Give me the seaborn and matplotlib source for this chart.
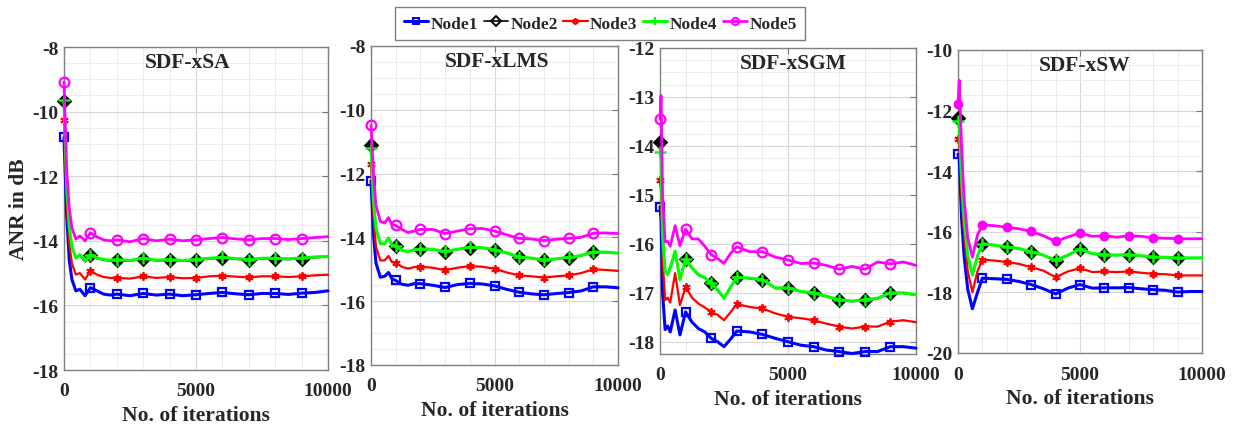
import numpy as np
import pandas as pd
import matplotlib
matplotlib.use("Agg")
import matplotlib.pyplot as plt
import seaborn as sns
from matplotlib.lines import Line2D
from matplotlib.ticker import MultipleLocator

# ---------------- data ----------------
NODES = ["Node1", "Node2", "Node3", "Node4", "Node5"]
TITLES = ["SDF-xSA", "SDF-xLMS", "SDF-xSGM", "SDF-xSW"]

# Panel 1: SDF-xSA
X1 = [0, 100, 200, 300, 450, 600, 800, 1000, 1250, 1500, 1750, 2000, 2500, 3000, 3500,
      4000, 4500, 5000, 5500, 6000, 6500, 7000, 7500, 8000, 8500, 9000, 9500, 10000]
SA_N1 = [-10.8, -13.2, -14.6, -15.2, -15.55, -15.5, -15.7, -15.45, -15.55, -15.65, -15.68, -15.65, -15.7, -15.63,
         -15.68, -15.65, -15.7, -15.67, -15.63, -15.6, -15.64, -15.67, -15.63, -15.63, -15.66, -15.62, -15.6, -15.55]
SA_N2 = [-9.67, -12.3, -13.6, -14.2, -14.55, -14.45, -14.65, -14.45, -14.55, -14.6, -14.62, -14.6, -14.63, -14.56,
         -14.62, -14.6, -14.63, -14.6, -14.56, -14.53, -14.57, -14.6, -14.56, -14.56, -14.58, -14.55, -14.52, -14.5]
SA_N3 = [-10.27, -12.8, -14.1, -14.7, -15.05, -15.0, -15.2, -14.92, -15.05, -15.12, -15.15, -15.15, -15.17, -15.1,
         -15.15, -15.12, -15.16, -15.15, -15.1, -15.08, -15.11, -15.13, -15.1, -15.1, -15.12, -15.1, -15.07, -15.05]
SA_N4 = [-9.65, -12.25, -13.55, -14.18, -14.53, -14.43, -14.63, -14.43, -14.53, -14.58, -14.6, -14.58, -14.61, -14.54,
         -14.6, -14.58, -14.61, -14.58, -14.54, -14.51, -14.55, -14.58, -14.54, -14.54, -14.56, -14.53, -14.5, -14.48]
SA_N5 = [-9.08, -11.8, -13.0, -13.6, -13.95, -13.85, -14.0, -13.75, -13.88, -13.97, -14.0, -13.97, -14.03, -13.93,
         -14.0, -13.95, -14.0, -13.97, -13.93, -13.9, -13.94, -13.97, -13.93, -13.93, -13.96, -13.93, -13.9, -13.87]

# Panel 2: SDF-xLMS
X2 = [0, 100, 200, 380, 550, 710, 850, 1000, 1250, 1500, 1750, 2000, 2500, 3000, 3500,
      4000, 4500, 5000, 5500, 6000, 6500, 7000, 7500, 8000, 8500, 9000, 9500, 10000]
LMS_N1 = [-12.23, -13.9, -14.8, -15.25, -15.22, -15.1, -15.3, -15.35, -15.47, -15.5, -15.45, -15.45, -15.5, -15.57,
          -15.48, -15.44, -15.46, -15.52, -15.63, -15.72, -15.77, -15.8, -15.76, -15.73, -15.68, -15.55, -15.55, -15.58]
LMS_N2 = [-11.1, -12.8, -13.7, -14.2, -14.2, -14.03, -14.25, -14.28, -14.42, -14.45, -14.4, -14.37, -14.38, -14.45,
          -14.38, -14.32, -14.33, -14.4, -14.5, -14.62, -14.66, -14.72, -14.68, -14.64, -14.58, -14.47, -14.47, -14.5]
LMS_N3 = [-11.7, -13.3, -14.3, -14.72, -14.72, -14.58, -14.78, -14.8, -14.92, -14.98, -14.93, -14.92, -14.95, -15.03,
          -14.95, -14.9, -14.92, -14.98, -15.1, -15.19, -15.22, -15.26, -15.22, -15.19, -15.12, -15.0, -15.02, -15.05]
LMS_N4 = [-11.2, -12.85, -13.72, -14.2, -14.2, -14.02, -14.24, -14.27, -14.41, -14.44, -14.39, -14.36, -14.37, -14.44,
          -14.37, -14.31, -14.32, -14.39, -14.49, -14.61, -14.65, -14.71, -14.67, -14.63, -14.57, -14.46, -14.46, -14.49]
LMS_N5 = [-10.49, -12.0, -13.0, -13.5, -13.55, -13.38, -13.6, -13.62, -13.75, -13.85, -13.8, -13.75, -13.75, -13.88,
          -13.8, -13.73, -13.72, -13.8, -13.92, -14.03, -14.05, -14.1, -14.06, -14.03, -14.0, -13.87, -13.86, -13.88]

# Panel 3: SDF-xSGM
X3 = [0, 40, 100, 200, 300, 400, 590, 780, 1000, 1250, 1500, 1750, 2000, 2250, 2500, 2750, 3000,
      3500, 4000, 4500, 5000, 5500, 6000, 6500, 7000, 7500, 8000, 8500, 9000, 9500, 10000]
SGM_N1 = [-15.24, -15.5, -17.0, -17.75, -17.68, -17.8, -17.35, -17.86, -17.39, -17.6, -17.73, -17.8, -17.93, -18.0,
          -18.1, -17.95, -17.78, -17.8, -17.85, -17.93, -18.0, -18.07, -18.1, -18.17, -18.2, -18.24, -18.2, -18.2,
          -18.1, -18.1, -18.13]
SGM_N2 = [-13.92, -14.2, -15.8, -16.57, -16.64, -16.5, -16.16, -16.74, -16.3, -16.5, -16.64, -16.7, -16.81, -16.95,
          -17.12, -16.9, -16.68, -16.71, -16.74, -16.91, -16.91, -16.98, -17.01, -17.08, -17.15, -17.18, -17.15,
          -17.12, -17.01, -17.01, -17.05]
SGM_N3 = [-14.7, -14.9, -16.3, -17.15, -17.1, -17.2, -16.6, -17.25, -16.88, -17.1, -17.22, -17.3, -17.39, -17.45,
          -17.56, -17.4, -17.23, -17.29, -17.32, -17.42, -17.49, -17.52, -17.56, -17.63, -17.69, -17.73, -17.69,
          -17.69, -17.59, -17.56, -17.6]
SGM_N4 = [-14.12, -14.25, -15.82, -16.56, -16.63, -16.49, -16.15, -16.73, -16.3, -16.49, -16.63, -16.69, -16.8,
          -16.94, -17.11, -16.89, -16.68, -16.7, -16.73, -16.9, -16.9, -16.97, -17.0, -17.07, -17.14, -17.17,
          -17.14, -17.11, -17.0, -17.0, -17.04]
SGM_N5 = [-13.45, -12.97, -15.0, -15.96, -15.95, -16.05, -15.63, -16.04, -15.7, -15.9, -15.9, -16.05, -16.22, -16.3,
          -16.4, -16.2, -16.06, -16.16, -16.16, -16.27, -16.33, -16.4, -16.39, -16.44, -16.52, -16.46, -16.52,
          -16.37, -16.41, -16.37, -16.44]

# Panel 4: SDF-xSW
X4 = [0, 50, 150, 250, 400, 590, 800, 1000, 1500, 2000, 2500, 3000, 3500, 4000, 4500, 5000,
      5500, 6000, 6500, 7000, 7500, 8000, 8500, 9000, 9500, 10000]
SW_N1 = [-13.44, -13.6, -15.6, -16.8, -17.9, -18.54, -18.0, -17.53, -17.55, -17.57, -17.64, -17.74, -17.88, -18.05,
         -17.86, -17.74, -17.86, -17.85, -17.85, -17.84, -17.88, -17.91, -17.93, -17.99, -17.97, -17.97]
SW_N2 = [-12.26, -12.3, -14.3, -15.6, -16.8, -17.44, -16.8, -16.4, -16.45, -16.51, -16.56, -16.67, -16.78, -16.95,
         -16.78, -16.58, -16.73, -16.76, -16.78, -16.76, -16.8, -16.84, -16.85, -16.87, -16.87, -16.87]
SW_N3 = [-12.94, -13.0, -14.9, -16.1, -17.3, -17.99, -17.3, -16.92, -16.95, -17.0, -17.06, -17.17, -17.28, -17.5,
         -17.31, -17.2, -17.33, -17.31, -17.33, -17.31, -17.35, -17.39, -17.4, -17.44, -17.44, -17.44]
SW_N4 = [-12.34, -12.35, -14.32, -15.6, -16.78, -17.42, -16.79, -16.39, -16.44, -16.5, -16.55, -16.66, -16.77,
         -16.94, -16.77, -16.57, -16.72, -16.75, -16.77, -16.75, -16.79, -16.83, -16.84, -16.86, -16.86, -16.86]
SW_N5 = [-11.79, -11.0, -13.3, -14.9, -16.2, -16.84, -16.1, -15.77, -15.8, -15.85, -15.9, -15.99, -16.13, -16.32,
         -16.17, -16.04, -16.15, -16.13, -16.18, -16.13, -16.15, -16.2, -16.21, -16.23, -16.23, -16.23]

PANELS = [
    (X1, [SA_N1, SA_N2, SA_N3, SA_N4, SA_N5]),
    (X2, [LMS_N1, LMS_N2, LMS_N3, LMS_N4, LMS_N5]),
    (X3, [SGM_N1, SGM_N2, SGM_N3, SGM_N4, SGM_N5]),
    (X4, [SW_N1, SW_N2, SW_N3, SW_N4, SW_N5]),
]
YLIMS = [(-18, -8), (-18, -8), (-18.25, -12), (-20, -10)]
YMAJOR = [2, 2, 1, 2]
YMINOR = [0.5, 0.5, 0.25, 0.5]

# ---------------- style ----------------
COLORS = ["#0000ff", "#000000", "#ff0000", "#00ff00", "#ff00ff"]
MARKERS = ["s", "D", (6, 2, 0), "+", "o"]
MSIZES = [5.5, 6.5, 6, 8, 7]
MFC = ["none", "#000000", "none", "none", "none"]
MEW = [1.6, 1.8, 1.3, 1.8, 1.6]
LWS = [2.2, 1.2, 1.6, 2.2, 2.0]

sns.set_theme(style="white")
plt.rcParams["font.family"] = ["Liberation Serif", "DejaVu Serif"]
plt.rcParams["font.weight"] = "bold"
plt.rcParams["axes.unicode_minus"] = False

fig = plt.figure(figsize=(12.38, 4.27), dpi=100)
POS = [
    [64 / 1238, 1 - 371 / 427, 264 / 1238, 323 / 427],
    [371 / 1238, 1 - 366 / 427, 247 / 1238, 319 / 427],
    [660 / 1238, 1 - 355 / 427, 256 / 1238, 306 / 427],
    [958 / 1238, 1 - 354 / 427, 244 / 1238, 303 / 427],
]
TITLE_X = [0.47, 0.51, 0.52, 0.52]

for p, (xs, series) in enumerate(PANELS):
    ax = fig.add_axes(POS[p])
    rows = []
    for name, ys in zip(NODES, series):
        for xv, yv in zip(xs, ys):
            rows.append((name, xv, yv))
    df = pd.DataFrame(rows, columns=["node", "iter", "anr"])
    mk_idx = [i for i, v in enumerate(xs) if v % 1000 == 0 and v < 10000]
    for k, name in enumerate(NODES):
        sub = df[df["node"] == name]
        mfc = MFC[k]
        ms = MSIZES[k]
        if p == 3 and k == 4:
            mfc = COLORS[k]
            ms = 5.5
        sns.lineplot(data=sub, x="iter", y="anr", ax=ax, color=COLORS[k], lw=LWS[k],
                     marker=MARKERS[k], markevery=mk_idx, ms=ms,
                     mfc=mfc, mec=COLORS[k], mew=MEW[k], legend=False,
                     estimator=None, sort=False, clip_on=False, zorder=3 + k)
    ax.set_xlim(0, 10000)
    ax.set_ylim(*YLIMS[p])
    ax.xaxis.set_major_locator(MultipleLocator(5000))
    ax.xaxis.set_minor_locator(MultipleLocator(1000))
    ax.yaxis.set_major_locator(MultipleLocator(YMAJOR[p]))
    ax.yaxis.set_minor_locator(MultipleLocator(YMINOR[p]))
    ax.grid(which="major", color="#d8d8d8", lw=0.8)
    ax.grid(which="minor", color="#ebebeb", lw=0.7)
    ax.set_axisbelow(True)
    ax.tick_params(which="both", direction="in", top=True, right=True,
                   color="#777777", labelsize=14)
    ax.tick_params(axis="x", pad=9)
    ax.tick_params(axis="y", pad=4)
    ax.tick_params(which="major", length=4, width=0.8)
    ax.tick_params(which="minor", length=0)
    for lab in ax.get_xticklabels() + ax.get_yticklabels():
        lab.set_fontweight("bold")
    for s in ax.spines.values():
        s.set_color("#808080")
        s.set_linewidth(1.0)
    ax.set_xlabel("No. of iterations", fontsize=15.5, fontweight="bold", labelpad=4)
    if p == 0:
        ax.set_ylabel("ANR in dB", fontsize=15.5, fontweight="bold", labelpad=2)
    else:
        ax.set_ylabel("")
    ax.text(TITLE_X[p], 0.985, TITLES[p], transform=ax.transAxes, ha="center", va="top",
            fontsize=15.5, fontweight="bold", zorder=10)

handles = [Line2D([0], [0], color=COLORS[k], lw=LWS[k], marker=MARKERS[k], ms=MSIZES[k] * 0.75,
                  mfc="none", mec=COLORS[k], mew=1.4) for k in range(5)]
fig.legend(handles, NODES, loc="upper center", bbox_to_anchor=(0.485, 0.982), ncol=5,
           frameon=True, fancybox=False, edgecolor="#808080", framealpha=1,
           prop={"family": "Liberation Serif", "weight": "bold", "size": 12.5},
           handlelength=1.4, handletextpad=0.15, columnspacing=0.3, borderpad=0.5,
           borderaxespad=0)

fig.savefig("out.png", dpi=100, facecolor="white")
